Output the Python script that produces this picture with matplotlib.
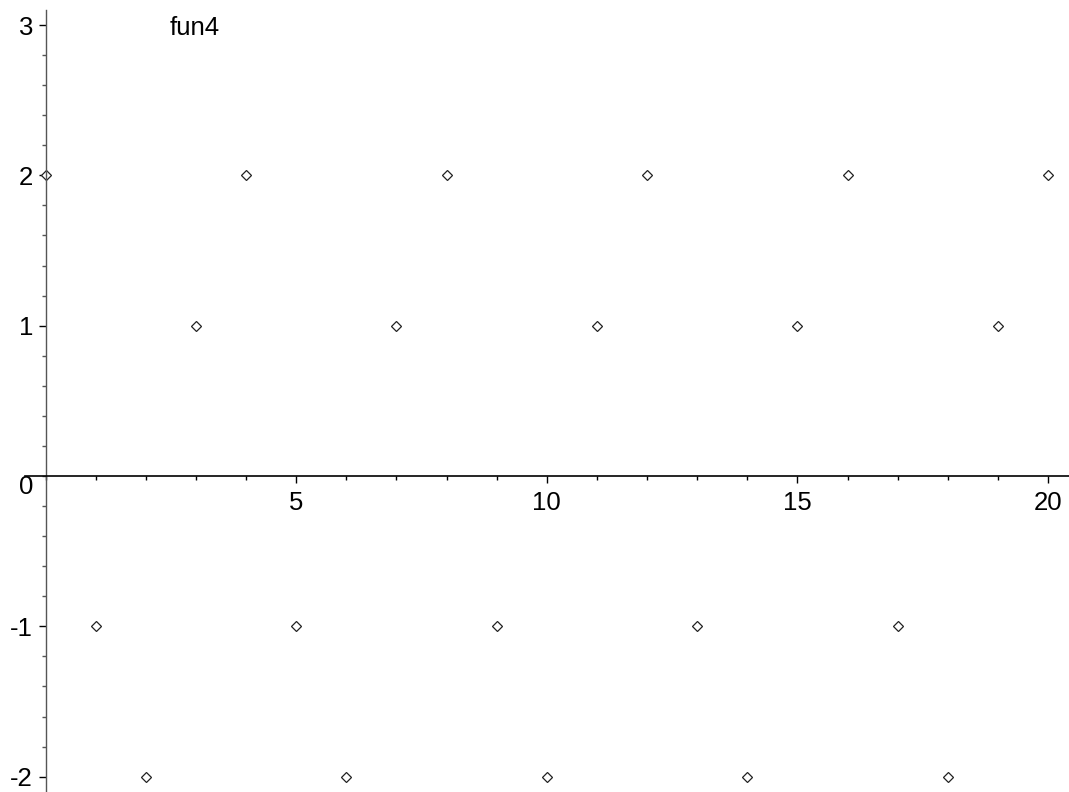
import matplotlib
matplotlib.use("Agg")
import matplotlib.pyplot as plt
from matplotlib.ticker import MultipleLocator

plt.rcParams['font.family'] = ['Liberation Sans', 'DejaVu Sans']

n_values = list(range(0, 21))
fun4_values = [2, -1, -2, 1, 2, -1, -2, 1, 2, -1, -2, 1, 2, -1, -2, 1, 2, -1, -2, 1, 2]
x_tick_labels = [5, 10, 15, 20]
y_tick_labels = [-2, -1, 1, 2, 3]
title_text = "fun4"

W, H = 1069, 792
fig = plt.figure(figsize=(W / 100, H / 100), dpi=100)
ax = fig.add_axes([0, 0, 1, 1])

# pixel mapping
x0px, xppu = 45.5, 50.13
y0px, yppu = 476.0, 150.33
ax.set_xlim(-x0px / xppu, (W - x0px) / xppu)
ax.set_ylim(-(H - y0px) / yppu, y0px / yppu)

ax.plot(n_values, fun4_values, linestyle='none', marker='D', markersize=5.4,
        markerfacecolor='white', markeredgecolor='#222222', markeredgewidth=0.9)

for s in ['top', 'right']:
    ax.spines[s].set_visible(False)
ax.spines['left'].set_position(('data', 0))
ax.spines['bottom'].set_position(('data', 0))
ax.spines['left'].set_bounds(-(H - y0px) / yppu, (y0px - 10) / yppu)
ax.spines['bottom'].set_bounds((25 - x0px) / xppu, (W - x0px) / xppu)
ax.spines['left'].set_color('#555555')
ax.spines['bottom'].set_color('black')
ax.spines['left'].set_linewidth(1.0)
ax.spines['bottom'].set_linewidth(1.2)

ax.set_xticks(x_tick_labels)
ax.set_xticklabels([str(v) for v in x_tick_labels])
ax.xaxis.set_minor_locator(MultipleLocator(1))
ax.set_yticks(y_tick_labels)
ax.set_yticklabels([str(v) for v in y_tick_labels])
ax.yaxis.set_minor_locator(MultipleLocator(0.2))

ax.tick_params(axis='x', which='major', direction='out', length=5, width=1, pad=6,
               labelsize=18.5, colors='black')
ax.tick_params(axis='x', which='minor', direction='out', length=3, width=1)
ax.tick_params(axis='y', which='major', direction='out', length=5, width=1, pad=4,
               labelsize=18.5, colors='black')
ax.tick_params(axis='y', which='minor', direction='out', length=3, width=1, color='#555555')

ax.text(-0.25, -0.075, "0", fontsize=18.5, ha='right', va='center', transform=ax.transData)

fig.text(170 / W, 1 - 35 / H, title_text, fontsize=18.5, ha='left', va='baseline')

fig.savefig("out.png", dpi=100)
